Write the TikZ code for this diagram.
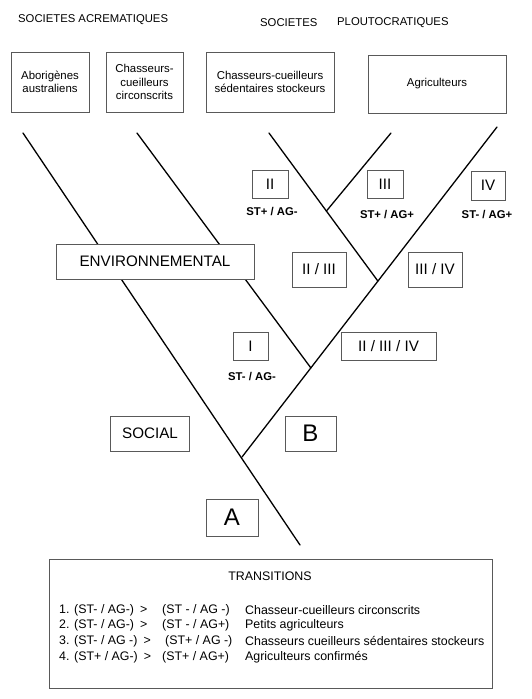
\documentclass[tikz,border=0pt]{standalone}
\usepackage{fontspec}
\setmainfont{Liberation Sans}
\usetikzlibrary{calc}

\begin{document}
\begin{tikzpicture}[
  x=1pt,y=-1pt,
  every node/.style={inner sep=0pt},
  box/.style={draw=black!65,fill=white,line width=0.75pt,align=center},
  boxtxt/.style={box,font=\fontsize{11.4}{13.5}\selectfont},
  bigtxt/.style={box,font=\fontsize{15.2}{17}\selectfont},
  lettertxt/.style={box,font=\fontsize{24}{26}\selectfont},
  headtxt/.style={anchor=west,font=\fontsize{11.3}{12}\selectfont},
  code/.style={font=\bfseries\fontsize{11.3}{12}\selectfont},
  rowtxt/.style={anchor=west,font=\fontsize{12.4}{14}\selectfont},
  branch/.style={line width=1.3pt,line cap=round}
]
  \useasboundingbox (0,0) rectangle (531,699);

  % headings and societies
  \node[headtxt] (acrem) at (18,20) {SOCIETES ACREMATIQUES};
  \node[headtxt] (soc) at (260,23) {SOCIETES};
  \node[headtxt] (plouto) at (337,23) {PLOUTOCRATIQUES};
  \node[boxtxt,minimum width=78,minimum height=60] (abori) at (50,82) {Aborigènes\\australiens};
  \node[boxtxt,minimum width=77,minimum height=60] (circ) at (144.5,82) {Chasseurs-\\cueilleurs\\circonscrits};
  \node[boxtxt,minimum width=128,minimum height=60] (sedent) at (270,82) {Chasseurs-cueilleurs\\sédentaires stockeurs};
  \node[boxtxt,minimum width=138,minimum height=58] (agri) at (437,84) {Agriculteurs};

  % the tree
  \coordinate (tipA) at (23,133);
  \coordinate (tipC) at (137,133);
  \coordinate (tipS) at (269,133);
  \coordinate (tipIII) at (391,133);
  \coordinate (tipR) at (497,127);
  \coordinate (root) at (300,545);
  \coordinate (fork) at (242,457);
  \coordinate (forkC) at ($(fork)!0.27!(tipR)$);
  \coordinate (forkS) at ($(fork)!0.533!(tipR)$);
  \coordinate (forkIII) at ($(tipS)!0.527!(forkS)$);
  \draw[branch] (tipA) -- (root);
  \draw[branch] (fork) -- (tipR);
  \draw[branch] (tipC) -- (forkC);
  \draw[branch] (tipS) -- (forkS);
  \draw[branch] (forkIII) -- (tipIII);

  % states
  \node[bigtxt,minimum width=36,minimum height=28] (stII) at (270,184) {II};
  \node[bigtxt,minimum width=36,minimum height=28] (stIII) at (385,184) {III};
  \node[bigtxt,minimum width=34,minimum height=29] (stIV) at (488,185.5) {IV};
  \node[code] (cdII) at (272,212) {ST+ / AG-};
  \node[code] (cdIII) at (387,215) {ST+ / AG+};
  \node[code] (cdIV) at (487,215) {ST- / AG+};
  \node[bigtxt,minimum width=198,minimum height=35] (envir) at (155,261.5) {ENVIRONNEMENTAL};
  \node[bigtxt,minimum width=54,minimum height=35] (stIIIII) at (319,269.5) {II / III};
  \node[bigtxt,minimum width=54,minimum height=35] (stIIIIV) at (435,269.5) {III / IV};
  \node[bigtxt,minimum width=35,minimum height=28] (stI) at (250.5,346) {I};
  \node[code] (cdI) at (252,377) {ST- / AG-};
  \node[bigtxt,minimum width=95,minimum height=28] (stAll) at (388.5,346) {II / III / IV};
  \node[bigtxt,minimum width=79,minimum height=35] (social) at (150,433.5) {SOCIAL};
  \node[lettertxt,minimum width=51,minimum height=35] (nodeB) at (310.5,433.5) {B};
  \node[lettertxt,minimum width=52,minimum height=37] (nodeA) at (232,517.5) {A};

  % transitions
  \node[box,minimum width=443,minimum height=129] (trans) at (270.5,623.5) {};
  \node[font=\fontsize{12.4}{14}\selectfont] (transhd) at (270,576) {TRANSITIONS};
  \foreach \n/\frm/\dst/\dstx/\desc in {
      1/{(ST- / AG-)}/{(ST - / AG -)}/162/Chasseur-cueilleurs circonscrits,
      2/{(ST- / AG-)}/{(ST - / AG+)}/162/Petits agriculteurs,
      3/{(ST- / AG -)}/{(ST+ / AG -)}/165/Chasseurs cueilleurs sédentaires stockeurs,
      4/{(ST+ / AG-)}/{(ST+ / AG+)}/162/Agriculteurs confirmés}{
    \node[rowtxt] (from\n) at (59,{610+15.7*(\n-1)}) {\n. \frm\hspace{6pt}>};
    \node[rowtxt] (to\n) at (\dstx,{610+15.7*(\n-1)}) {\dst};
    \node[rowtxt] (desc\n) at (245,{610+15.7*(\n-1)}) {\desc};
  }
\end{tikzpicture}
\end{document}
